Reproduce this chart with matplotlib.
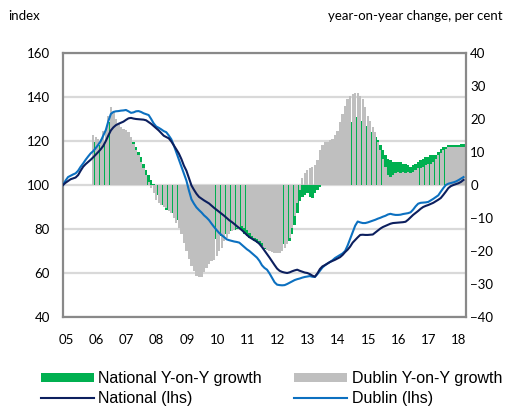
import matplotlib
matplotlib.use('Agg')
import matplotlib.pyplot as plt
import numpy as np
from matplotlib.lines import Line2D
from matplotlib.patches import Patch

# ---------------- data ----------------
year_labels = ['05', '06', '07', '08', '09', '10', '11', '12', '13', '14', '15', '16', '17', '18']

# monthly index, Jan 2005 = 100 (Jan 2005 .. Apr 2018)
national_index = [
    100.0, 101.0, 101.8, 102.6, 103.0, 103.4, 104.5, 106.5, 108.3, 109.5, 110.5, 111.5,
    112.6, 113.8, 115.0, 116.3, 117.8, 120.0, 122.5, 124.8, 126.2, 127.2, 127.8, 128.3,
    128.8, 129.6, 130.3, 130.5, 130.2, 130.0, 129.9, 129.8, 129.7, 129.4, 128.6, 127.8,
    126.8, 125.8, 124.8, 123.6, 122.4, 121.8, 121.2, 119.8, 118.0, 116.2, 114.3, 111.8,
    108.8, 106.5, 103.2, 99.8, 97.8, 96.0, 94.6, 93.8, 93.0, 92.3, 91.6, 90.6,
    89.6, 88.7, 87.8, 86.9, 86.0, 85.0, 84.0, 83.2, 82.3, 81.3, 80.4, 79.5,
    78.4, 77.3, 76.3, 75.6, 74.9, 74.2, 73.2, 71.8, 70.2, 68.6, 67.0, 65.3,
    63.6, 62.0, 61.0, 60.5, 60.2, 60.0, 60.3, 60.8, 61.2, 61.5, 61.0, 60.6,
    60.2, 60.0, 59.5, 58.8, 58.3, 59.8, 61.8, 63.0, 63.6, 64.3, 65.0, 65.5,
    66.0, 66.6, 67.2, 68.2, 69.5, 70.6, 72.0, 73.8, 75.0, 76.2, 77.3, 77.4,
    77.3, 77.3, 77.4, 77.5, 78.4, 79.3, 80.2, 80.9, 81.4, 81.9, 82.4, 82.7,
    82.8, 82.9, 83.0, 83.1, 83.3, 84.2, 85.3, 86.4, 87.3, 88.2, 89.2, 90.0,
    90.5, 90.9, 91.4, 91.9, 92.6, 93.3, 94.1, 95.5, 97.0, 98.6, 99.5, 100.0,
    100.4, 100.8, 101.4, 102.3,
]

dublin_index = [
    100.0, 102.0, 103.6, 104.2, 104.8, 105.3, 106.5, 108.3, 109.8, 111.5, 113.0, 114.4,
    115.4, 116.8, 118.3, 120.0, 122.5, 125.0, 129.0, 132.3, 133.2, 133.5, 133.6, 133.8,
    133.9, 134.1, 133.5, 132.8, 133.0, 133.5, 133.6, 133.2, 132.6, 132.2, 131.8, 130.0,
    128.0, 126.6, 126.0, 125.3, 124.5, 124.0, 122.5, 120.8, 118.0, 114.8, 111.5, 108.4,
    105.3, 102.0, 97.5, 93.5, 91.5, 89.8, 88.6, 87.5, 86.2, 85.2, 84.0, 82.4,
    80.9, 79.5, 78.2, 77.2, 76.3, 75.3, 74.9, 74.6, 74.3, 74.1, 73.8, 72.8,
    71.8, 70.8, 70.0, 69.0, 68.0, 67.0, 65.5, 63.5, 62.3, 61.5, 59.8, 57.8,
    55.8, 54.7, 54.5, 54.4, 54.5, 55.0, 55.6, 56.2, 56.8, 57.2, 57.5, 57.9,
    58.2, 58.4, 58.6, 58.3, 58.2, 59.5, 61.0, 62.5, 63.5, 64.3, 65.0, 65.8,
    66.8, 67.5, 68.2, 68.9, 70.0, 72.5, 75.5, 78.5, 81.5, 83.4, 83.0, 82.7,
    82.7, 83.0, 83.4, 83.8, 84.2, 84.7, 85.1, 85.6, 86.0, 86.6, 86.9, 86.6,
    86.4, 86.4, 86.5, 86.8, 87.0, 87.2, 87.6, 88.8, 90.3, 91.5, 91.9, 92.0,
    92.1, 92.3, 93.0, 93.7, 94.5, 95.3, 97.0, 98.6, 100.0, 100.6, 100.9, 101.2,
    101.6, 102.2, 102.9, 103.6,
]

# year-on-year change, per cent (Jan 2006 .. Apr 2018)
national_yoy = [
    13.5, 13.0, 12.0, 11.0, 13.0, 16.0, 19.0, 19.5, 18.5, 17.0, 16.5, 16.0,
    15.5, 15.0, 14.5, 14.0, 13.0, 11.5, 10.0, 8.5, 6.5, 4.5, 3.0, 1.5,
    0.3, -1.0, -3.0, -4.5, -6.0, -7.5, -8.0, -8.5, -9.5, -10.5, -12.0, -13.5,
    -15.0, -16.5, -18.0, -19.0, -20.0, -20.5, -20.8, -20.6, -20.3, -19.8, -19.0, -18.0,
    -17.0, -16.5, -15.8, -15.5, -15.0, -14.8, -14.5, -14.0, -13.5, -13.2, -13.0, -14.0,
    -15.0, -15.5, -16.0, -16.5, -17.0, -17.5, -18.0, -18.5, -19.5, -19.8, -20.0, -20.0,
    -19.8, -19.5, -19.0, -18.5, -18.0, -17.5, -17.0, -15.0, -12.0, -8.5, -5.0, -3.5,
    -3.0, -2.5, -3.5, -4.0, -2.5, -1.5, -0.5, 1.5, 3.5, 5.0, 6.0, 7.5,
    8.5, 10.0, 11.5, 13.0, 15.0, 16.5, 18.0, 19.0, 20.0, 20.5, 20.3, 19.5,
    18.0, 17.0, 16.0, 15.0, 14.5, 13.5, 12.0, 10.5, 9.0, 8.0, 7.5, 7.0,
    7.0, 7.0, 7.0, 6.5, 6.5, 6.0, 5.5, 6.0, 6.5, 7.0, 7.5, 8.0,
    8.5, 8.5, 9.0, 9.0, 9.0, 10.0, 11.0, 11.5, 11.5, 12.0, 12.0, 12.0,
    12.0, 12.0, 12.5, 12.5,
]

dublin_yoy = [
    15.0, 14.5, 14.0, 14.0, 16.5, 17.0, 21.0, 23.5, 22.0, 20.0, 18.5, 17.6,
    17.0, 16.7, 16.0, 14.5, 12.5, 10.5, 9.0, 7.0, 5.0, 3.0, 1.0, -1.0,
    -2.5, -4.5, -5.5, -6.0, -6.7, -7.0, -8.0, -8.5, -10.0, -11.5, -13.0, -15.0,
    -17.5, -20.0, -22.5, -24.5, -26.0, -27.5, -28.0, -28.0, -26.5, -25.0, -24.0, -23.0,
    -22.7, -21.5, -20.0, -19.0, -17.0, -16.0, -15.0, -14.0, -13.5, -13.0, -12.7, -12.5,
    -13.0, -13.6, -14.5, -15.5, -16.0, -16.5, -17.0, -17.5, -19.0, -19.7, -20.0, -20.3,
    -20.5, -20.6, -20.5, -20.0, -19.0, -18.0, -16.0, -13.0, -9.5, -5.5, -1.5, 2.0,
    3.5, 4.5, 5.0, 5.5, 6.0, 7.5, 10.5, 12.0, 13.0, 13.0, 13.5, 14.0,
    15.0, 16.5, 19.0, 21.5, 24.0, 26.0, 27.0, 27.6, 28.0, 28.0, 27.0, 26.0,
    23.5, 21.0, 19.5, 17.5, 16.0, 13.0, 10.6, 8.0, 5.5, 3.0, 2.5, 3.0,
    3.5, 4.0, 3.5, 4.0, 3.5, 4.0, 3.5, 4.0, 4.5, 5.0, 5.0, 5.5,
    6.0, 6.5, 6.5, 7.0, 8.0, 9.0, 9.7, 10.5, 11.0, 11.5, 11.5, 11.5,
    11.5, 11.5, 11.5, 11.5,
]

# ---------------- styles ----------------
GREEN = '#00B050'
GREY = '#BFBFBF'
NAVY = '#0C1F5E'
BLUE = '#0C70C0'
GRID = '#D9D9D9'
FRAME = '#898989'

months = np.arange(len(national_index))
yoy_months = np.arange(12, 12 + len(national_yoy))

W, H = 509, 407
fig = plt.figure(figsize=(W / 100, H / 100), dpi=100)
rect = [63 / W, 1 - 317 / H, (466 - 63) / W, (317 - 53) / H]

# base axes: left scale, gridlines, labels
ax = fig.add_axes(rect)
ax.set_ylim(40, 160)
ax.set_yticks(np.arange(40, 161, 20))
ax.set_xlim(0, len(national_index))
ax.set_xticks(np.arange(len(year_labels)) * 12 + 1.2)
ax.set_xticklabels(year_labels)
ax.yaxis.grid(True, color=GRID, linewidth=1.6)
ax.set_axisbelow(True)
ax.tick_params(axis='y', length=0, pad=9.5, labelsize=9.5)
ax.tick_params(axis='x', length=0, pad=12, labelsize=9.5)
for s in ax.spines.values():
    s.set_visible(False)

# bars: right scale
axb = ax.twinx()
axb.set_ylim(-40, 40)
axb.set_yticks(np.arange(-40, 41, 10))
axb.tick_params(axis='y', length=0, pad=3, labelsize=9.5)
axb.bar(yoy_months, national_yoy, width=1.0, color=GREEN, linewidth=0, zorder=1)
axb.bar(yoy_months, dublin_yoy, width=0.9, color=GREY, linewidth=0, zorder=2)
for s in axb.spines.values():
    s.set_visible(False)

# lines: left scale
axl = ax.twinx()
axl.set_ylim(40, 160)
axl.set_yticks([])
axl.plot(months, dublin_index, color=BLUE, linewidth=1.5, zorder=3)
axl.plot(months, national_index, color=NAVY, linewidth=1.5, zorder=4)
for s in axl.spines.values():
    s.set_color(FRAME)
    s.set_linewidth(1.6)
axl.set_xlim(0, len(national_index))

for lab in ax.get_xticklabels() + ax.get_yticklabels() + axb.get_yticklabels():
    lab.set_fontfamily('Lato')

fig.text(8 / W, 1 - 16 / H, 'index', fontsize=9.5, family='Lato', va='center', ha='left')
fig.text(503 / W, 1 - 16 / H, 'year-on-year change, per cent', fontsize=9.5,
         family='Lato', va='center', ha='right')

handles = [Patch(facecolor=GREEN, edgecolor='none'),
           Line2D([0], [0], color=NAVY, linewidth=1.5),
           Patch(facecolor=GREY, edgecolor='none'),
           Line2D([0], [0], color=BLUE, linewidth=1.5)]
labels = ['National Y-on-Y growth', 'National (lhs)', 'Dublin Y-on-Y growth', 'Dublin (lhs)']
leg = fig.legend(handles, labels, ncol=2, loc='upper left',
                 bbox_to_anchor=(41 / W, 1 - 371 / H), frameon=False,
                 prop={'family': 'Liberation Sans', 'size': 11.5},
                 handlelength=3.3, handleheight=0.5, handletextpad=0.3,
                 columnspacing=2.0, labelspacing=0.32, borderpad=0, borderaxespad=0)

fig.savefig('out.png', dpi=100)
